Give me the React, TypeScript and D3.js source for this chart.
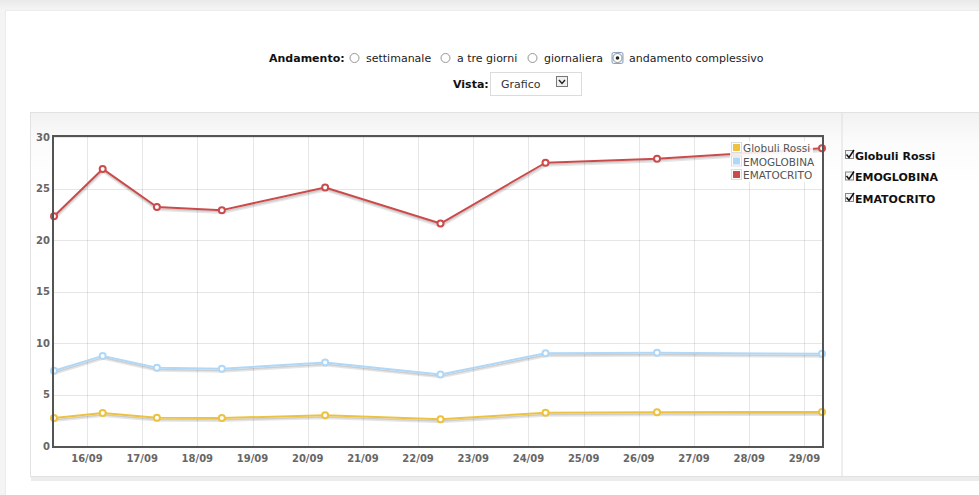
import React from 'react';
import * as d3 from 'd3';

// rilevazioni (data/ora) e valori delle tre serie
const dates = [
    '2013-09-15 09:40', '2013-09-16 06:50', '2013-09-17 06:25', '2013-09-18 10:40',
    '2013-09-20 07:35', '2013-09-22 09:45', '2013-09-24 07:25', '2013-09-26 07:55',
    '2013-09-29 07:40'
];
const globuliRossi = [2.72, 3.2, 2.75, 2.72, 2.98, 2.59, 3.23, 3.27, 3.3];
const emoglobina = [7.3, 8.75, 7.6, 7.5, 8.1, 6.95, 9.0, 9.05, 8.95];
const ematocrito = [22.3, 26.9, 23.2, 22.9, 25.1, 21.6, 27.5, 27.9, 28.9];

const seriesNames = ['Globuli Rossi', 'EMOGLOBINA', 'EMATOCRITO'];
const seriesColors = ['#edc240', '#afd8f8', '#cb4b4b'];
const yTicks = [0, 5, 10, 15, 20, 25, 30];
const periodOptions = ['settimanale', 'a tre giorni', 'giornaliera', 'andamento complessivo'];

const config = {
    width: 979,
    height: 495,
    plot: { left: 54, right: 822, top: 137, bottom: 446 },
    font: '"DejaVu Sans", Verdana, sans-serif',
    textColor: '#545454'
};

const parse = d3.timeParse('%Y-%m-%d %H:%M');

export default function App() {
    const { plot, font } = config;
    const times = dates.map(d => parse(d) as Date);
    const x = d3.scaleTime().domain(d3.extent(times) as [Date, Date]).range([plot.left, plot.right]);
    const y = d3.scaleLinear().domain([0, 30]).range([plot.bottom, plot.top]);
    const dayTicks = x.ticks(d3.timeDay.every(1) as d3.TimeInterval);
    const fmt = d3.timeFormat('%d/%m');

    const series = [globuliRossi, emoglobina, ematocrito];
    const line = d3.line<number>().x((_, i) => x(times[i])).y(v => y(v));
    const shadowAngle = Math.PI / 18;

    // header: x of each radio label, radio sits just before it
    const labelX = [366, 457, 544, 629];

    return (
        <svg width={config.width} height={config.height}
             style={{ position: 'absolute', left: 0, top: 0 }}
             fontFamily={font}>
            <defs>
                <linearGradient id="pageTop" x1="0" y1="0" x2="0" y2="1">
                    <stop offset="0" stopColor="#e9e9e9" />
                    <stop offset="1" stopColor="#f6f6f6" />
                </linearGradient>
                <linearGradient id="boxTop" x1="0" y1="0" x2="0" y2="1">
                    <stop offset="0" stopColor="#f2f2f2" />
                    <stop offset="0.08" stopColor="#fbfbfb" />
                    <stop offset="0.2" stopColor="#ffffff" />
                </linearGradient>
            </defs>

            {/* page background */}
            <rect x={0} y={0} width={config.width} height={config.height} fill="#f4f4f4" />
            <rect x={0} y={0} width={config.width} height={11} fill="url(#pageTop)" />
            <rect x={5} y={10} width={config.width} height={config.height} fill="#ececec" />
            <rect x={6} y={11} width={config.width} height={config.height} fill="#ffffff" />

            {/* controls */}
            <g fontSize={11} fill="#222">
                <text x={269} y={62} fontWeight="bold" fill="#111">Andamento:</text>
                {periodOptions.map((label, i) => {
                    const cx = labelX[i] - 11.5;
                    return (
                        <g key={label}>
                            {i === 3 && <rect x={cx - 5.5} y={52.5} width={11} height={11} rx={1.5}
                                              fill="#e6eef6" stroke="#8aa4c0" strokeWidth={1} />}
                            <circle cx={cx} cy={58} r={4.5} fill="#fff" stroke="#8a8a8a" strokeWidth={0.9} />
                            {i === 3 && <circle cx={cx} cy={58} r={1.8} fill="#222" />}
                            <text x={labelX[i]} y={62}>{label}</text>
                        </g>
                    );
                })}
                <text x={453} y={88} fontWeight="bold" fill="#111">Vista:</text>
                <rect x={490.5} y={72.5} width={91} height={23} fill="#fff" stroke="#dcdcdc" />
                <text x={501} y={88} fill="#333">Grafico</text>
                <rect x={556.5} y={76.5} width={11} height={10} fill="#f0f0f0" stroke="#777" />
                <path d="M559,80 L562,83.5 L565,80" fill="none" stroke="#222" strokeWidth={1.4} />
            </g>

            {/* chart container */}
            <rect x={31} y={477} width={config.width} height={4} fill="#ececec" />
            <rect x={30.5} y={112.5} width={config.width} height={364} fill="url(#boxTop)" stroke="#e2e2e2" />
            <line x1={842} x2={842} y1={113} y2={477} stroke="#dedede" />
            <rect x={843} y={113} width={config.width - 843} height={363} fill="url(#boxTop)" />

            {/* grid */}
            <rect x={plot.left} y={plot.top} width={plot.right - plot.left} height={plot.bottom - plot.top} fill="#fff" />
            <g stroke="#545454" strokeOpacity={0.15} strokeWidth={1}>
                {yTicks.map(t => (
                    <line key={t} x1={plot.left} x2={plot.right} y1={Math.round(y(t)) + 0.5} y2={Math.round(y(t)) + 0.5} />
                ))}
                {dayTicks.map(d => (
                    <line key={+d} x1={Math.round(x(d)) + 0.5} x2={Math.round(x(d)) + 0.5} y1={plot.top} y2={plot.bottom} />
                ))}
            </g>

            {/* tick labels */}
            <g fontSize={10} fontWeight="bold" fill="#666">
                {yTicks.map(t => (
                    <text key={t} x={plot.left - 4} y={y(t) + 3.5} textAnchor="end">{t}</text>
                ))}
                {dayTicks.map(d => (
                    <text key={+d} x={x(d)} y={462} textAnchor="middle">{fmt(d)}</text>
                ))}
            </g>

            {/* series */}
            {series.map((values, s) => (
                <g key={seriesNames[s]}>
                    <path d={line(values) as string} fill="none" stroke="#000" strokeOpacity={0.1} strokeWidth={3}
                          strokeLinejoin="round"
                          transform={`translate(${Math.sin(shadowAngle) * 2.5},${Math.cos(shadowAngle) * 2.5})`} />
                    <path d={line(values) as string} fill="none" stroke="#000" strokeOpacity={0.1} strokeWidth={1.5}
                          strokeLinejoin="round"
                          transform={`translate(${Math.sin(shadowAngle) * 1.75},${Math.cos(shadowAngle) * 1.75})`} />
                    <path d={line(values) as string} fill="none" stroke={seriesColors[s]} strokeWidth={2} strokeLinejoin="round" />
                    {values.map((v, i) => (
                        <circle key={i} cx={x(times[i])} cy={y(v)} r={3} fill="#fff" stroke={seriesColors[s]} strokeWidth={2} />
                    ))}
                </g>
            ))}

            {/* plot border */}
            <rect x={plot.left - 1} y={plot.top - 1} width={plot.right - plot.left + 2} height={plot.bottom - plot.top + 2}
                  fill="none" stroke="#545454" strokeWidth={2} />

            {/* legend */}
            <rect x={730} y={141} width={83} height={41} fill="#fff" fillOpacity={0.85} />
            <g fontSize={10.5} fill={config.textColor}>
                {seriesNames.map((name, i) => (
                    <g key={name} transform={`translate(0,${148 + i * 13.5})`}>
                        <rect x={731.5} y={-5.5} width={10} height={10} fill="#fff" stroke="#ddd" />
                        <rect x={733} y={-4} width={7} height={7} fill={seriesColors[i]} />
                        <text x={743} y={4}>{name}</text>
                    </g>
                ))}
            </g>

            {/* series toggles */}
            <g fontSize={11} fontWeight="bold" fill="#111">
                {seriesNames.map((name, i) => (
                    <g key={name} transform={`translate(0,${155 + i * 21.5})`}>
                        <rect x={845.5} y={-4.5} width={8} height={8} fill="#f4f4f4" stroke="#888" />
                        <path d="M846.5,-0.5 L849,2.5 L854,-5" fill="none" stroke="#111" strokeWidth={1.5} />
                        <text x={855} y={4.5}>{name}</text>
                    </g>
                ))}
            </g>
        </svg>
    );
}
